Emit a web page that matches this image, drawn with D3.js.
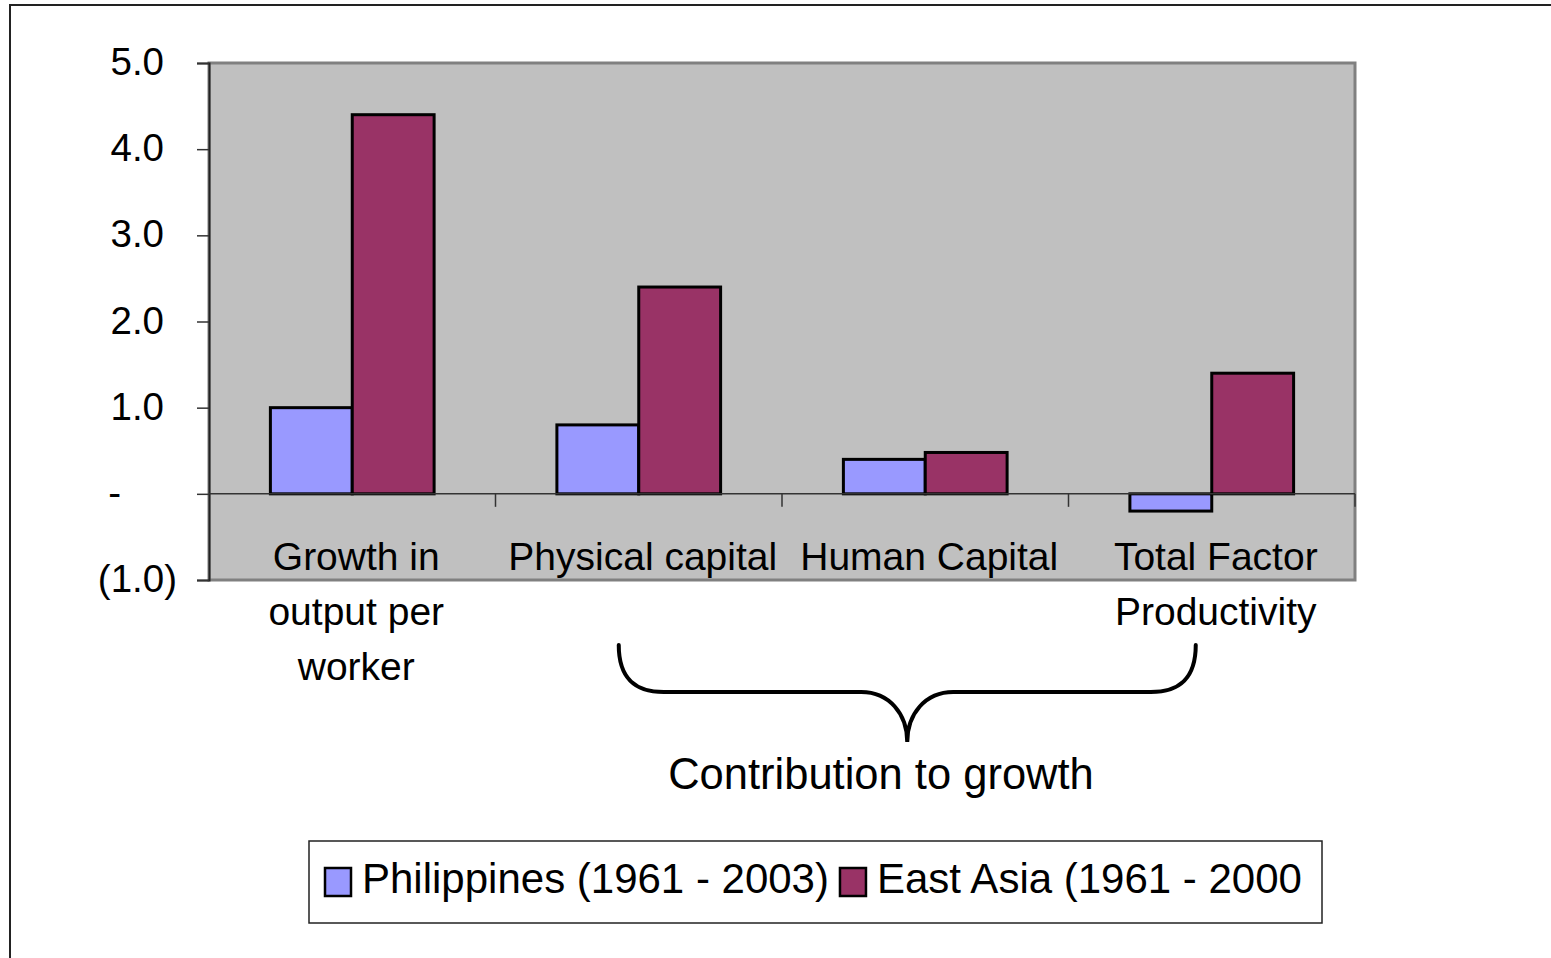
<!DOCTYPE html>
<html>
<head>
<meta charset="utf-8">
<script src="https://cdn.jsdelivr.net/npm/d3@7"></script>
<style>
  html, body { margin: 0; padding: 0; background: #fff; }
  svg { display: block; font-family: "Liberation Sans", Arial, sans-serif; }
</style>
</head>
<body>
<div id="root"></div>
<script>
const categories = ['Growth in output per worker', 'Physical capital', 'Human Capital', 'Total Factor Productivity'];
const categoryLines = [['Growth in', 'output per', 'worker'], ['Physical capital'], ['Human Capital'], ['Total Factor', 'Productivity']];
const seriesNames = ['Philippines (1961 - 2003)', 'East Asia (1961 - 2000'];
const philippines = [1.0, 0.8, 0.4, -0.2];
const eastAsia = [4.4, 2.4, 0.48, 1.4];
const yTicks = [-1, 0, 1, 2, 3, 4, 5];
const colors = ['#9999ff', '#993366'];

const width = 1551;
const height = 958;
const plot = { left: 209, right: 1355, top: 63, bottom: 580 };

const svg = d3.select('#root').append('svg')
  .attr('width', width)
  .attr('height', height);

// outer chart frame (runs off the page on right and bottom)
svg.append('rect')
  .attr('x', 10).attr('y', 5)
  .attr('width', 1600).attr('height', 1000)
  .attr('fill', 'none')
  .attr('stroke', '#222')
  .attr('stroke-width', 2);

const x0 = d3.scaleBand()
  .domain(categories)
  .range([plot.left, plot.right]);

const x1 = d3.scaleBand()
  .domain(seriesNames)
  .range([0, x0.bandwidth()])
  .paddingInner(0)
  .paddingOuter(0.75);

const y = d3.scaleLinear()
  .domain([-1, 5])
  .range([plot.bottom, plot.top]);

// plot area
svg.append('rect')
  .attr('x', plot.left).attr('y', plot.top)
  .attr('width', plot.right - plot.left)
  .attr('height', plot.bottom - plot.top)
  .attr('fill', '#c0c0c0')
  .attr('stroke', '#808080')
  .attr('stroke-width', 3);

// bars
const rows = categories.map((c, i) => ({
  category: c,
  values: [philippines[i], eastAsia[i]],
}));

const groups = svg.append('g').selectAll('g')
  .data(rows)
  .enter()
  .append('g')
  .attr('transform', d => `translate(${x0(d.category)},0)`);

groups.selectAll('rect')
  .data(d => d.values.map((v, j) => ({ name: seriesNames[j], value: v, color: colors[j] })))
  .enter()
  .append('rect')
  .attr('x', d => x1(d.name))
  .attr('y', d => y(Math.max(0, d.value)))
  .attr('width', x1.bandwidth())
  .attr('height', d => Math.abs(y(d.value) - y(0)))
  .attr('fill', d => d.color)
  .attr('stroke', '#000')
  .attr('stroke-width', 3);

// y axis
const yAxis = d3.axisLeft(y)
  .tickValues(yTicks)
  .tickSize(12)
  .tickPadding(33)
  .tickFormat(d => d < 0 ? `(${d3.format('.1f')(-d)})` : d === 0 ? '-' : d3.format('.1f')(d));

const yG = svg.append('g')
  .attr('transform', `translate(${plot.left},0)`)
  .call(yAxis);

yG.select('.domain').attr('stroke', '#222').attr('stroke-width', 2);
yG.selectAll('.tick line').attr('stroke', '#333').attr('stroke-width', 1.5);
yG.selectAll('.tick text')
  .attr('font-size', 38.5)
  .attr('font-family', '"Liberation Sans", Arial, sans-serif')
  .attr('fill', '#000')
  .attr('dy', '0.3em')
  .attr('dx', d => d < 0 ? 13 : d === 0 ? -43 : 0);

// zero line with category ticks
const zeroY = y(0);
svg.append('line')
  .attr('x1', plot.left).attr('x2', plot.right)
  .attr('y1', zeroY).attr('y2', zeroY)
  .attr('stroke', '#333')
  .attr('stroke-width', 1.5);

svg.append('g').selectAll('line')
  .data(categories.slice(1).concat(['end']))
  .enter()
  .append('line')
  .attr('x1', d => d === 'end' ? plot.right : x0(d))
  .attr('x2', d => d === 'end' ? plot.right : x0(d))
  .attr('y1', zeroY)
  .attr('y2', zeroY + 13)
  .attr('stroke', '#333')
  .attr('stroke-width', 1.5);

// category labels
const labels = svg.append('g')
  .attr('font-size', 39)
  .attr('text-anchor', 'middle')
  .attr('fill', '#000');

categories.forEach((c, i) => {
  const cx = x0(c) + x0.bandwidth() / 2 + 4;
  const t = labels.append('text')
    .attr('x', cx)
    .attr('y', 570);
  categoryLines[i].forEach((line, k) => {
    t.append('tspan')
      .attr('x', cx)
      .attr('y', 570 + k * 55)
      .text(line);
  });
});

// brace over the contribution categories
const braceL = x0(categories[1]) + x0.bandwidth() / 2 - 20;
const braceR = x0(categories[3]) + x0.bandwidth() / 2 - 16;
const braceM = (braceL + braceR) / 2;
const bTop = 645;
const bMid = 692;
const bTip = 742;
const brace = d3.path();
brace.moveTo(braceL, bTop);
brace.bezierCurveTo(braceL, bMid - 12, braceL + 18, bMid, braceL + 45, bMid);
brace.lineTo(braceM - 46, bMid);
brace.bezierCurveTo(braceM - 18, bMid, braceM, bMid + 22, braceM, bTip);
brace.bezierCurveTo(braceM, bMid + 22, braceM + 18, bMid, braceM + 46, bMid);
brace.lineTo(braceR - 45, bMid);
brace.bezierCurveTo(braceR - 18, bMid, braceR, bMid - 12, braceR, bTop);

svg.append('path')
  .attr('d', brace.toString())
  .attr('fill', 'none')
  .attr('stroke', '#000')
  .attr('stroke-width', 4)
  .attr('stroke-linecap', 'round');

svg.append('text')
  .attr('x', 881)
  .attr('y', 789)
  .attr('text-anchor', 'middle')
  .attr('font-size', 43.5)
  .text('Contribution to growth');

// legend
const legend = svg.append('g');
legend.append('rect')
  .attr('x', 309).attr('y', 841)
  .attr('width', 1013).attr('height', 82)
  .attr('fill', '#fff')
  .attr('stroke', '#222')
  .attr('stroke-width', 1.5);

let lx = 325;
seriesNames.forEach((name, i) => {
  legend.append('rect')
    .attr('x', lx).attr('y', 868)
    .attr('width', 26).attr('height', 28)
    .attr('fill', colors[i])
    .attr('stroke', '#000')
    .attr('stroke-width', 2.5);
  const t = legend.append('text')
    .attr('x', lx + 37)
    .attr('y', 893)
    .attr('font-size', 42)
    .text(name);
  lx = lx + 37 + t.node().getComputedTextLength() + 11;
});
</script>
</body>
</html>
